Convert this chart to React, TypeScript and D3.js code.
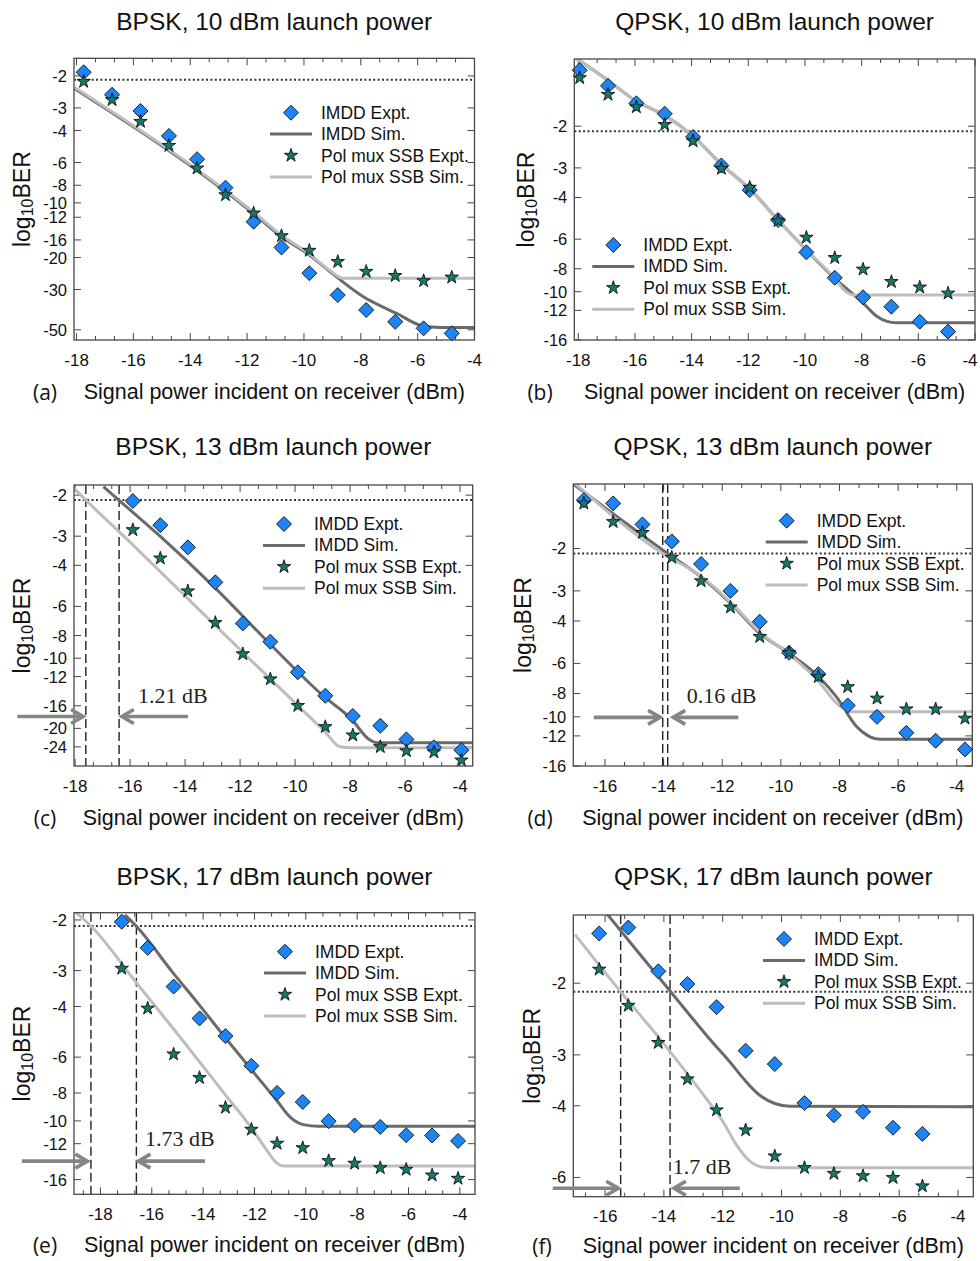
import React from "react";
import * as d3 from "d3";

const SANS = "'Liberation Sans', Arial, Helvetica, sans-serif";
const SERIF = "'Liberation Serif', 'Times New Roman', serif";

// ---------- shared texts / ticks ----------
const legendLabels = ["IMDD Expt.", "IMDD Sim.", "Pol mux SSB Expt.", "Pol mux SSB Sim."];
const panelTitles = [
  "BPSK, 10 dBm launch power",
  "QPSK, 10 dBm launch power",
  "BPSK, 13 dBm launch power",
  "QPSK, 13 dBm launch power",
  "BPSK, 17 dBm launch power",
  "QPSK, 17 dBm launch power",
];
const panelLetters = ["(a)", "(b)", "(c)", "(d)", "(e)", "(f)"];
const xAxisLabel = "Signal power incident on receiver (dBm)";
const xTicksLong = [-18, -16, -14, -12, -10, -8, -6, -4];
const xTicksShort = [-16, -14, -12, -10, -8, -6, -4];
const yTicksA = [-2, -3, -4, -6, -8, -10, -12, -16, -20, -30, -50];
const yTicksB = [-2, -3, -4, -6, -8, -10, -12, -16];
const yTicksC = [-2, -3, -4, -6, -8, -10, -12, -16, -20, -24];
const yTicksD = [-2, -3, -4, -6, -8, -10, -12, -16];
const yTicksE = [-2, -3, -4, -6, -8, -10, -12, -16];
const yTicksF = [-2, -3, -4, -6];
const fecThreshold = -2.1;
const gapLabels = ["1.21 dB", "0.16 dB", "1.73 dB", "1.7 dB"];

// ---------- panel (a) BPSK 10 dBm ----------
const aPower = [-17.75, -16.75, -15.75, -14.75, -13.76, -12.76, -11.77, -10.79, -9.81, -8.81, -7.81, -6.79, -5.79, -4.8];
const aImddExpt = [-1.91, -2.54, -3.12, -4.28, -5.75, -8.25, -12.7, -17.6, -24.4, -32.2, -38.9, -45.2, -49.1, -52.3];
const aPolExpt = [-2.15, -2.71, -3.57, -4.84, -6.45, -9.05, -11.4, -15.2, -18.3, -21.1, -23.9, -25.2, -26.9, -25.7];
const aImddSimPower = [-18.09, -11.76, -10.78, -9.81, -9.09, -7.91, -6.74, -5.8, -5.22, -4.0];
const aImddSim = [-2.34, -11.5, -15.4, -19.4, -23.9, -32.9, -40.6, -47.7, -48.5, -48.5];
const aPolSimPower = [-18.09, -11.76, -10.78, -9.81, -9.09, -8.62, -4.0];
const aPolSim = [-2.3, -11.3, -15.1, -19.1, -23.6, -26.0, -26.0];

// ---------- panel (b) QPSK 10 dBm ----------
const bPower = [-17.95, -16.95, -15.95, -14.95, -13.95, -12.95, -11.95, -10.95, -9.95, -8.95, -7.95, -6.95, -5.95, -4.95];
const bImddExpt = [-1.16, -1.35, -1.6, -1.77, -2.22, -2.93, -3.72, -4.98, -6.82, -8.73, -10.56, -11.57, -13.39, -14.75];
const bPolExpt = [-1.25, -1.47, -1.66, -1.97, -2.31, -3.02, -3.63, -5.02, -5.9, -7.19, -8.05, -9.08, -9.58, -10.16];
const bImddSimPower = [-18.14, -16.95, -15.95, -14.95, -13.95, -12.95, -11.95, -10.95, -9.95, -8.95, -8.41, -7.94, -7.47, -7.1, -6.8, -4.0];
const bImddSim = [-1.02, -1.28, -1.57, -1.8, -2.2, -2.9, -3.68, -4.98, -6.67, -8.78, -10.0, -11.2, -12.7, -13.35, -13.52, -13.52];
const bPolSimPower = [-18.14, -16.95, -15.95, -14.95, -13.95, -12.95, -11.95, -10.95, -9.95, -8.95, -8.6, -8.25, -4.0];
const bPolSim = [-1.02, -1.28, -1.57, -1.8, -2.2, -2.9, -3.68, -4.98, -6.67, -8.78, -9.9, -10.33, -10.33];

// ---------- panel (c) BPSK 13 dBm ----------
const cPower = [-15.9, -14.9, -13.9, -12.9, -11.9, -10.9, -9.9, -8.9, -7.9, -6.9, -5.95, -4.95, -3.95];
const cImddExpt = [-2.12, -2.69, -3.35, -4.73, -7.1, -8.5, -11.5, -14.5, -17.7, -19.5, -22.3, -24.1, -24.8];
const cPolExpt = [-2.82, -3.73, -5.16, -7.05, -9.6, -12.3, -16.0, -19.7, -21.4, -24.0, -25.0, -25.3, -27.4];
const cImddSimPower = [-16.97, -16.41, -14.91, -12.91, -10.91, -8.95, -7.94, -7.33, -7.0, -3.54];
const cImddSim = [-1.84, -2.1, -3.0, -5.0, -8.7, -14.6, -18.3, -22.2, -23.05, -23.05];
const cPolSimPower = [-18.04, -17.61, -15.9, -13.9, -11.92, -9.94, -8.91, -8.36, -8.0, -3.54];
const cPolSim = [-1.87, -2.1, -3.27, -5.56, -9.39, -15.8, -20.7, -24.0, -24.2, -24.2];
const cSensitivity = [-17.61, -16.4];

// ---------- panel (d) QPSK 13 dBm ----------
const dPower = [-16.72, -15.72, -14.72, -13.72, -12.72, -11.72, -10.72, -9.72, -8.72, -7.72, -6.72, -5.72, -4.72, -3.72];
const dImddExpt = [-1.26, -1.3, -1.59, -1.87, -2.32, -3.0, -4.03, -5.42, -6.65, -8.97, -10.0, -11.65, -12.57, -13.65];
const dPolExpt = [-1.3, -1.55, -1.72, -2.18, -2.73, -3.51, -4.65, -5.42, -6.82, -7.51, -8.38, -9.29, -9.29, -10.15];
const dImddSimPower = [-17.08, -13.86, -12.73, -11.71, -10.72, -9.72, -8.72, -8.09, -7.41, -6.96, -6.61, -3.47];
const dImddSim = [-1.08, -2.1, -2.62, -3.38, -4.5, -5.45, -6.8, -8.3, -11.0, -12.1, -12.4, -12.4];
const dPolSimPower = [-17.08, -14.03, -12.73, -11.71, -10.72, -9.72, -8.72, -8.09, -7.64, -3.47];
const dPolSim = [-1.06, -2.1, -2.6, -3.35, -4.45, -5.5, -7.1, -8.8, -9.53, -9.53];
const dSensitivity = [-14.03, -13.86];

// ---------- panel (e) BPSK 17 dBm ----------
const ePower = [-17.17, -16.16, -15.15, -14.14, -13.13, -12.12, -11.12, -10.12, -9.11, -8.1, -7.1, -6.09, -5.08, -4.07];
const eImddExpt = [-2.03, -2.5, -3.41, -4.4, -5.07, -6.43, -7.99, -8.59, -10.02, -10.37, -10.49, -11.21, -11.24, -11.74];
const ePolExpt = [-2.95, -4.06, -5.86, -7.08, -8.98, -10.71, -11.98, -12.41, -13.77, -14.06, -14.57, -14.76, -15.45, -15.86];
const eImddSimPower = [-17.05, -16.61, -15.18, -14.16, -13.14, -12.11, -11.11, -10.62, -10.1, -9.5, -3.41];
const eImddSim = [-1.92, -2.1, -3.05, -3.94, -5.13, -6.65, -8.54, -9.68, -10.3, -10.43, -10.43];
const ePolSimPower = [-19.03, -18.37, -16.61, -15.18, -14.16, -13.14, -12.11, -11.53, -11.14, -10.85, -3.41];
const ePolSim = [-1.86, -2.1, -3.3, -4.75, -6.2, -8.1, -10.6, -12.6, -14.0, -14.35, -14.35];
const eSensitivity = [-18.37, -16.6];

// ---------- panel (f) QPSK 17 dBm ----------
const fPower = [-16.2, -15.21, -14.19, -13.2, -12.21, -11.22, -10.23, -9.22, -8.22, -7.23, -6.21, -5.21];
const fImddExpt = [-1.51, -1.46, -1.87, -2.01, -2.29, -2.93, -3.16, -3.94, -4.22, -4.14, -4.53, -4.69];
const fPolExpt = [-1.85, -2.27, -2.8, -3.44, -4.1, -4.59, -5.32, -5.68, -5.87, -5.95, -6.01, -6.3];
const fImddSimPower = [-15.94, -14.81, -13.79, -13.11, -12.43, -11.76, -11.25, -10.74, -10.23, -9.72, -3.48];
const fImddSim = [-1.35, -1.7, -2.09, -2.4, -2.75, -3.12, -3.46, -3.77, -3.95, -4.01, -4.02];
const fPolSimPower = [-17.02, -15.47, -14.19, -13.2, -12.55, -11.98, -11.53, -11.08, -10.62, -10.06, -3.48];
const fPolSim = [-1.52, -2.1, -2.71, -3.34, -3.85, -4.39, -5.0, -5.47, -5.66, -5.68, -5.68];
const fSensitivity = [-15.47, -13.79];

// ---------- styling ----------
const COL = {
  diamond: "#1c84f5",
  star: "#15786b",
  dark: "#6a6a6a",
  light: "#bdbdbd",
  frame: "#474747",
  arrow: "#858585",
};

type Arrow = { y: number; lTail: number; lTip: number; rTail: number; rTip: number; tx: number; ty: number; text: string };

type PanelCfg = {
  box: { left: number; top: number; right: number; bottom: number };
  xDomain: [number, number];
  yDomain: [number, number];
  xTicks: number[];
  yTicks: number[];
  power: number[];
  imddExpt: number[];
  polExpt: number[];
  imddSim: [number[], number[]];
  polSim: [number[], number[]];
  sens?: number[];
  arrow?: Arrow;
  legend: { x: number; y: number };
  ylabelX: number;
  letterX: number;
  titleY: number;
  xlabelDy: number;
};

const panels: PanelCfg[] = [
  {
    box: { left: 74, top: 58.3, right: 474.5, bottom: 340 },
    xDomain: [-18.09, -4], yDomain: [1.6, 56.9],
    xTicks: xTicksLong, yTicks: yTicksA,
    power: aPower, imddExpt: aImddExpt, polExpt: aPolExpt,
    imddSim: [aImddSimPower, aImddSim], polSim: [aPolSimPower, aPolSim],
    legend: { x: 291, y: 112.7 }, ylabelX: 22, letterX: 45, titleY: 21.7, xlabelDy: 52,
  },
  {
    box: { left: 574.3, top: 59, right: 975, bottom: 340 },
    xDomain: [-18.14, -4], yDomain: [1.04, 16],
    xTicks: xTicksLong, yTicks: yTicksB,
    power: bPower, imddExpt: bImddExpt, polExpt: bPolExpt,
    imddSim: [bImddSimPower, bImddSim], polSim: [bPolSimPower, bPolSim],
    legend: { x: 613.3, y: 245 }, ylabelX: 526, letterX: 540, titleY: 21.7, xlabelDy: 52,
  },
  {
    box: { left: 74, top: 485, right: 472.7, bottom: 766 },
    xDomain: [-18.04, -3.54], yDomain: [1.81, 29],
    xTicks: xTicksLong, yTicks: yTicksC,
    power: cPower, imddExpt: cImddExpt, polExpt: cPolExpt,
    imddSim: [cImddSimPower, cImddSim], polSim: [cPolSimPower, cPolSim],
    sens: cSensitivity,
    arrow: { y: -17.8, lTail: -20.1, lTip: -17.71, rTail: -13.89, rTip: -16.3, tx: -15.71, ty: -14.4, text: gapLabels[0] },
    legend: { x: 284, y: 524 }, ylabelX: 22, letterX: 45, titleY: 446.7, xlabelDy: 52,
  },
  {
    box: { left: 573.3, top: 484, right: 972.3, bottom: 766 },
    xDomain: [-17.08, -3.47], yDomain: [1.08, 16],
    xTicks: xTicksShort, yTicks: yTicksD,
    power: dPower, imddExpt: dImddExpt, polExpt: dPolExpt,
    imddSim: [dImddSimPower, dImddSim], polSim: [dPolSimPower, dPolSim],
    sens: dSensitivity,
    arrow: { y: -10.05, lTail: -16.38, lTip: -14.12, rTail: -11.45, rTip: -13.67, tx: -13.21, ty: -8.12, text: gapLabels[1] },
    legend: { x: 786.7, y: 520.7 }, ylabelX: 522.5, letterX: 540, titleY: 446.7, xlabelDy: 52,
  },
  {
    box: { left: 74, top: 912.7, right: 475, bottom: 1194.3 },
    xDomain: [-19.03, -3.41], yDomain: [1.887, 18],
    xTicks: xTicksLong, yTicks: yTicksE,
    power: ePower, imddExpt: eImddExpt, polExpt: ePolExpt,
    imddSim: [eImddSimPower, eImddSim], polSim: [ePolSimPower, ePolSim],
    sens: eSensitivity,
    arrow: { y: -13.8, lTail: -21.06, lTip: -18.51, rTail: -13.93, rTip: -16.52, tx: -16.26, ty: -11.5, text: gapLabels[2] },
    legend: { x: 285, y: 951.7 }, ylabelX: 22, letterX: 45, titleY: 876, xlabelDy: 51,
  },
  {
    box: { left: 573.3, top: 915, right: 973.3, bottom: 1196.7 },
    xDomain: [-17.08, -3.48], yDomain: [1.36, 6.69],
    xTicks: xTicksShort, yTicks: yTicksF,
    power: fPower, imddExpt: fImddExpt, polExpt: fPolExpt,
    imddSim: [fImddSimPower, fImddSim], polSim: [fPolSimPower, fPolSim],
    sens: fSensitivity,
    arrow: { y: -6.38, lTail: -17.78, lTip: -15.55, rTail: -11.42, rTip: -13.66, tx: -13.7, ty: -5.65, text: gapLabels[3] },
    legend: { x: 784, y: 939 }, ylabelX: 532, letterX: 542, titleY: 876, xlabelDy: 49,
  },
];

const DR = 7.5;
const diamondPath = `M0,${-DR}L${DR},0L0,${DR}L${-DR},0Z`;
const starPath = d3.symbol().type(d3.symbolStar).size(56)() as string;

function ArrowMark({ x1, x2, y }: { x1: number; x2: number; y: number }) {
  const dir = Math.sign(x2 - x1);
  const hx = x2 - dir * 12;
  return (
    <g stroke={COL.arrow} strokeWidth={3.6} fill="none">
      <line x1={x1} y1={y} x2={x2 - dir * 1.5} y2={y} />
      <polyline points={`${hx},${y - 7} ${x2},${y} ${hx},${y + 7}`} strokeLinejoin="miter" />
    </g>
  );
}

function Panel({ cfg, idx }: { cfg: PanelCfg; idx: number }) {
  const { left, top, right, bottom } = cfg.box;
  const x = d3.scaleLinear().domain(cfg.xDomain).range([left, right]);
  const y = d3.scaleLog().domain(cfg.yDomain).range([top, bottom]);
  const Y = (v: number) => y(-v);
  const line = d3
    .line<[number, number]>()
    .x((d) => x(d[0]))
    .y((d) => Y(d[1]))
    .curve(d3.curveMonotoneX);
  const zip = (a: number[], b: number[]) => a.map((v, i) => [v, b[i]] as [number, number]);
  const clipId = `clip-panel-${idx}`;
  const cxMid = (left + right) / 2;
  const cyMid = (top + bottom) / 2;

  const majors = cfg.xTicks.filter((t) => t >= cfg.xDomain[0] - 1e-6 && t <= cfg.xDomain[1] + 1e-6);
  const minors: number[] = [];
  for (let m = -20; m < -4; m += 2) {
    [m + 2 / 3, m + 4 / 3].forEach((t) => {
      if (t > cfg.xDomain[0] && t < cfg.xDomain[1]) minors.push(t);
    });
  }

  const MAJ = 7;
  const MIN = 4;

  return (
    <g>
      <defs>
        <clipPath id={clipId}>
          <rect x={left} y={top} width={right - left} height={bottom - top} />
        </clipPath>
      </defs>

      {/* title */}
      <text x={cxMid} y={cfg.titleY} textAnchor="middle" dominantBaseline="central" fontSize={24.5} fontFamily={SANS} fill="#111">
        {panelTitles[idx]}
      </text>

      {/* ticks */}
      <g stroke={COL.frame} strokeWidth={1}>
        {majors.map((t) => (
          <g key={`M${t}`}>
            <line x1={x(t)} x2={x(t)} y1={bottom} y2={bottom - MAJ} />
            <line x1={x(t)} x2={x(t)} y1={top} y2={top + MAJ} />
          </g>
        ))}
        {minors.map((t) => (
          <g key={`m${t}`}>
            <line x1={x(t)} x2={x(t)} y1={bottom} y2={bottom - MIN} />
            <line x1={x(t)} x2={x(t)} y1={top} y2={top + MIN} />
          </g>
        ))}
        {cfg.yTicks.map((t) => (
          <g key={`y${t}`}>
            <line x1={left} x2={left + MAJ} y1={Y(t)} y2={Y(t)} />
            <line x1={right} x2={right - MAJ} y1={Y(t)} y2={Y(t)} />
          </g>
        ))}
      </g>
      {majors.map((t) => (
        <text key={`xl${t}`} x={Math.min(x(t), 970)} y={bottom + 20} textAnchor="middle" dominantBaseline="central" fontSize={17} fontFamily={SANS} fill="#111">
          {t}
        </text>
      ))}
      {cfg.yTicks.map((t) => (
        <text key={`yl${t}`} x={left - 7} y={Y(t)} textAnchor="end" dominantBaseline="central" fontSize={16.5} fontFamily={SANS} fill="#111">
          {t}
        </text>
      ))}

      {/* threshold */}
      <line x1={left} x2={right} y1={Y(fecThreshold)} y2={Y(fecThreshold)} stroke="#333" strokeWidth={2} strokeDasharray="2 2.4" />

      {/* sensitivity markers */}
      {cfg.sens &&
        cfg.sens.map((s, i) => (
          <line key={`s${i}`} x1={x(s)} x2={x(s)} y1={top} y2={bottom} stroke="#222" strokeWidth={1.4} strokeDasharray="9 4" />
        ))}

      {/* simulation curves */}
      <g clipPath={`url(#${clipId})`} fill="none" strokeWidth={3} strokeLinejoin="round">
        <path d={line(zip(cfg.imddSim[0], cfg.imddSim[1])) || ""} stroke={COL.dark} />
        <path d={line(zip(cfg.polSim[0], cfg.polSim[1])) || ""} stroke={COL.light} />
      </g>

      {/* experimental markers */}
      {cfg.power.map((p, i) => (
        <path key={`d${i}`} d={diamondPath} transform={`translate(${x(p)},${Y(cfg.imddExpt[i])})`} fill={COL.diamond} stroke="#111" strokeWidth={0.9} />
      ))}
      {cfg.power.map((p, i) => (
        <path key={`s${i}`} d={starPath} transform={`translate(${x(p)},${Y(cfg.polExpt[i])})`} fill={COL.star} stroke="#111" strokeWidth={0.9} />
      ))}

      {/* frame */}
      <rect x={left} y={top} width={right - left} height={bottom - top} fill="none" stroke={COL.frame} strokeWidth={1.3} />

      {/* arrows & gap label */}
      {cfg.arrow && (
        <g>
          <ArrowMark x1={x(cfg.arrow.lTail)} x2={x(cfg.arrow.lTip)} y={Y(cfg.arrow.y)} />
          <ArrowMark x1={x(cfg.arrow.rTail)} x2={x(cfg.arrow.rTip)} y={Y(cfg.arrow.y)} />
          <text x={x(cfg.arrow.tx)} y={Y(cfg.arrow.ty)} dominantBaseline="central" fontSize={22} fontFamily={SERIF} fill="#222">
            {cfg.arrow.text}
          </text>
        </g>
      )}

      {/* legend */}
      {legendLabels.map((lab, i) => {
        const ly = cfg.legend.y + i * 21.4;
        const lx = cfg.legend.x;
        return (
          <g key={`lg${i}`}>
            {i === 0 && <path d={diamondPath} transform={`translate(${lx},${ly})`} fill={COL.diamond} stroke="#111" strokeWidth={0.9} />}
            {i === 2 && <path d={starPath} transform={`translate(${lx},${ly})`} fill={COL.star} stroke="#111" strokeWidth={0.9} />}
            {(i === 1 || i === 3) && (
              <line x1={lx - 21} x2={lx + 21} y1={ly} y2={ly} stroke={i === 1 ? COL.dark : COL.light} strokeWidth={3} />
            )}
            <text x={lx + 30} y={ly} dominantBaseline="central" fontSize={17.5} fontFamily={SANS} fill="#111">
              {lab}
            </text>
          </g>
        );
      })}

      {/* y label */}
      <text transform={`translate(${cfg.ylabelX},${cyMid}) rotate(-90)`} textAnchor="middle" dominantBaseline="central" fontSize={23} fontFamily={SANS} fill="#111">
        log
        <tspan fontSize={16} dy={5}>10</tspan>
        <tspan dy={-5}>BER</tspan>
      </text>

      {/* x label */}
      <text x={cfg.letterX} y={bottom + cfg.xlabelDy} textAnchor="middle" dominantBaseline="central" fontSize={21} fontFamily="'Open Sans', 'Liberation Sans', sans-serif" fill="#111">
        {panelLetters[idx]}
      </text>
      <text x={cxMid} y={bottom + cfg.xlabelDy} textAnchor="middle" dominantBaseline="central" fontSize={21.5} fontFamily={SANS} fill="#111">
        {xAxisLabel}
      </text>
    </g>
  );
}

export default function App() {
  return (
    <div style={{ position: "absolute", left: 0, top: 0, background: "#fff" }}>
      <svg width={980} height={1261} viewBox="0 0 980 1261" style={{ display: "block", background: "#fff" }}>
        {panels.map((p, i) => (
          <Panel key={i} cfg={p} idx={i} />
        ))}
      </svg>
    </div>
  );
}
